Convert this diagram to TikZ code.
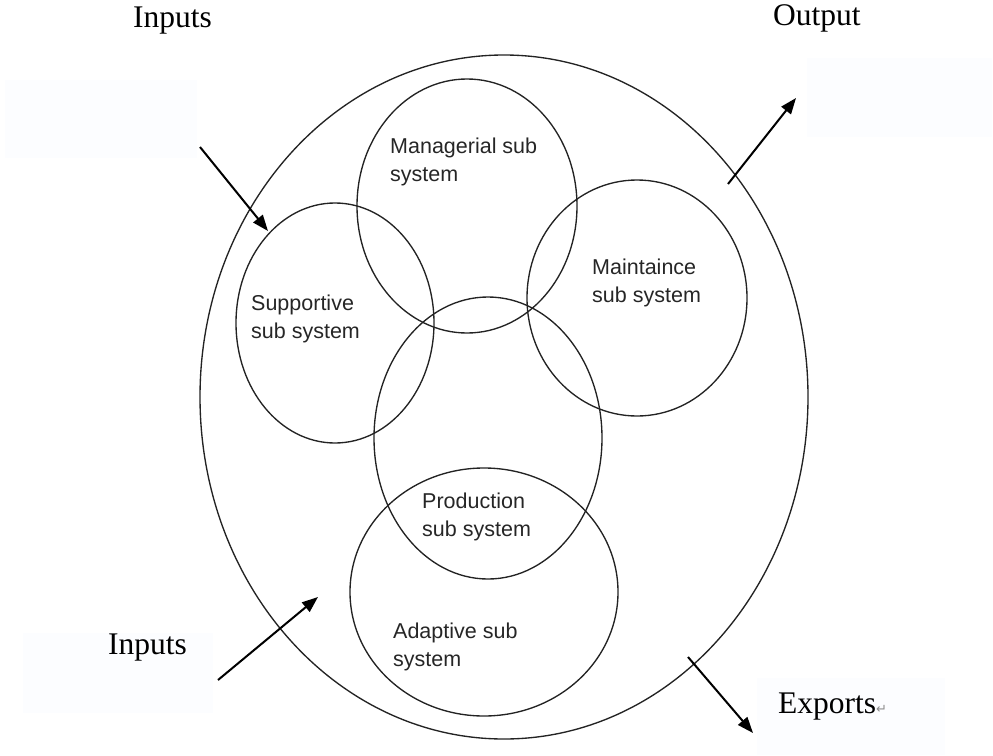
\documentclass[tikz,border=0pt]{standalone}
\usepackage{fontspec}
\setmainfont{Liberation Serif}
\newfontfamily\labelsans{Liberation Sans}
\newfontfamily\symfont{DejaVu Sans}
\usetikzlibrary{arrows.meta}
\definecolor{paneltint}{RGB}{252,253,255}
\definecolor{ringgray}{RGB}{35,35,35}
\tikzset{
  ring/.style={draw=ringgray, line width=1.35pt},
  panel/.style={fill=paneltint, draw=none},
  flow/.style={line width=2pt, -{Triangle[length=16pt,width=12pt]}},
  subtext/.style={anchor=base west, align=left, inner sep=0pt, text=black!85,
    font=\labelsans\fontsize{21.5}{27.5}\selectfont},
  outertext/.style={anchor=base west, inner sep=0pt,
    font=\fontsize{31.5}{36}\selectfont}
}
\begin{document}
\begin{tikzpicture}[x=1pt, y=-1pt]
  \useasboundingbox (0,0) rectangle (993,755);
  % faint text-box backgrounds
  \fill[panel] (5,80) rectangle (197,158);
  \fill[panel] (807,58) rectangle (992,137);
  \fill[panel] (23,633) rectangle (213,713);
  \fill[panel] (757,678) rectangle (945,755);

  % the organisation boundary
  \draw[ring] (504,397) ellipse [x radius=304, y radius=342];

  % sub systems
  \draw[ring] (467,206) ellipse [x radius=110, y radius=127];
  \draw[ring] (335,323) ellipse [x radius=99, y radius=120];
  \draw[ring] (637,298) ellipse [x radius=110, y radius=118];
  \draw[ring] (488,438) ellipse [x radius=114, y radius=141];
  \draw[ring] (484,592) ellipse [x radius=134, y radius=124];

  % labels: anchored on the baseline of their last line
  \node[subtext] (managerial) at (390,181) {Managerial sub\\system};
  \node[subtext] (supportive) at (251,338) {Supportive\\sub system};
  \node[subtext] (maintaince) at (592,302) {Maintaince\\sub system};
  \node[subtext] (production) at (422,536) {Production\\sub system};
  \node[subtext] (adaptive) at (393,666) {Adaptive sub\\system};

  % outer labels
  \node[outertext] (inputsTop) at (133,27) {Inputs};
  \node[outertext] (outputTop) at (773,25) {Output};
  \node[outertext] (inputsLow) at (108,654) {Inputs};
  \node[outertext] (exports) at (778,713) {Exports\textcolor{black!45}{\symfont\fontsize{13}{13}\selectfont ↵}};

  % flows across the boundary
  \coordinate (inA) at (200,147);
  \coordinate (inB) at (268,231);
  \coordinate (outA) at (728,184);
  \coordinate (outB) at (796,98);
  \coordinate (in2A) at (218,680);
  \coordinate (in2B) at (318,597);
  \coordinate (expA) at (688,657);
  \coordinate (expB) at (753,733);
  \draw[flow] (inA) -- (inB);
  \draw[flow] (outA) -- (outB);
  \draw[flow] (in2A) -- (in2B);
  \draw[flow] (expA) -- (expB);
\end{tikzpicture}
\end{document}
